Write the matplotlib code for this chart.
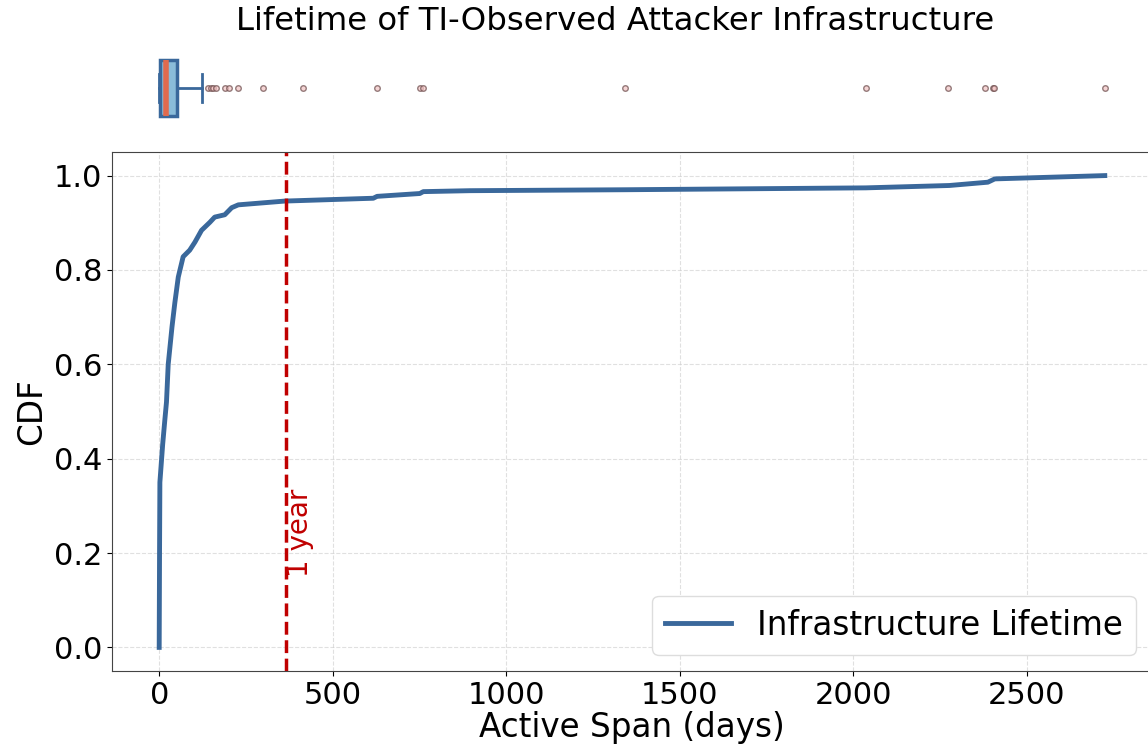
import numpy as np
import matplotlib
matplotlib.use("Agg")
import matplotlib.pyplot as plt

# CDF curve (days, cumulative fraction)
span_days = [0, 1, 2, 10, 16, 21, 26, 37, 45, 55, 69, 88, 103, 122, 146, 160,
             189, 209, 228, 362, 617, 628, 751, 761, 895, 1341, 2036, 2277, 2388, 2408, 2725]
cdf_vals = [0.0, 0.20, 0.35, 0.43, 0.48, 0.52, 0.60, 0.68, 0.73, 0.785, 0.828, 0.842,
            0.859, 0.884, 0.901, 0.912, 0.917, 0.932, 0.938, 0.946, 0.952, 0.956,
            0.962, 0.966, 0.968, 0.970, 0.974, 0.979, 0.986, 0.993, 1.0]

# box plot summary (days)
box_q1, box_med, box_q3 = 2, 21, 51
whisk_lo, whisk_hi = 0, 124
outliers = [141, 148, 154, 163, 191, 202, 227, 300, 415, 629, 752, 759,
            1341, 2036, 2273, 2381, 2404, 2407, 2725]

one_year = 365

line_col = '#3a689b'
red = '#c00000'

W, H = 1148, 749
fig = plt.figure(figsize=(W / 100, H / 100), dpi=100)

ax = fig.add_axes([112 / W, (H - 671) / H, 1040 / W, (671 - 152) / H])
axb = fig.add_axes([112 / W, (H - 123) / H, 1040 / W, 70 / H], sharex=ax)

# ---------- CDF ----------
ax.plot(span_days, cdf_vals, color=line_col, lw=3.5, label='Infrastructure Lifetime')
ax.axvline(one_year, color=red, ls='--', lw=2.5)
ax.text(one_year, 0.15, '1 year', rotation=90, color=red, fontsize=20,
        ha='left', va='bottom')
ax.set_xlim(-136, 2861)
ax.set_ylim(-0.05, 1.05)
ax.set_xticks([0, 500, 1000, 1500, 2000, 2500])
ax.set_yticks([0.0, 0.2, 0.4, 0.6, 0.8, 1.0])
ax.tick_params(labelsize=22)
ax.set_xlabel('Active Span (days)', fontsize=23.5, labelpad=1)
ax.set_ylabel('CDF', fontsize=23.5)
ax.grid(True, ls='--', color='#cccccc', alpha=0.6, lw=0.8)
for s in ax.spines.values():
    s.set_color('#444444')
ax.legend(loc='lower right', fontsize=23.5, framealpha=1, edgecolor='#dddddd')

# ---------- box plot ----------
stats = [dict(med=box_med, q1=box_q1, q3=box_q3, whislo=whisk_lo, whishi=whisk_hi,
              fliers=outliers)]
axb.bxp(stats, positions=[1], widths=0.8, orientation='horizontal', patch_artist=True,
        boxprops=dict(facecolor='#8abcd9', edgecolor=line_col, lw=2.5),
        medianprops=dict(color='#e06a4e', lw=4),
        whiskerprops=dict(color=line_col, lw=2),
        capprops=dict(color=line_col, lw=2),
        flierprops=dict(marker='o', markersize=4, markerfacecolor='#f2c4c4',
                        markeredgecolor='#6a4a4a', alpha=0.7))
axb.set_ylim(0.5, 1.5)
axb.axis('off')

fig.text(615 / W, (H - 22) / H, 'Lifetime of TI-Observed Attacker Infrastructure',
         ha='center', va='center', fontsize=23.3)

fig.savefig('out.png', dpi=100)
